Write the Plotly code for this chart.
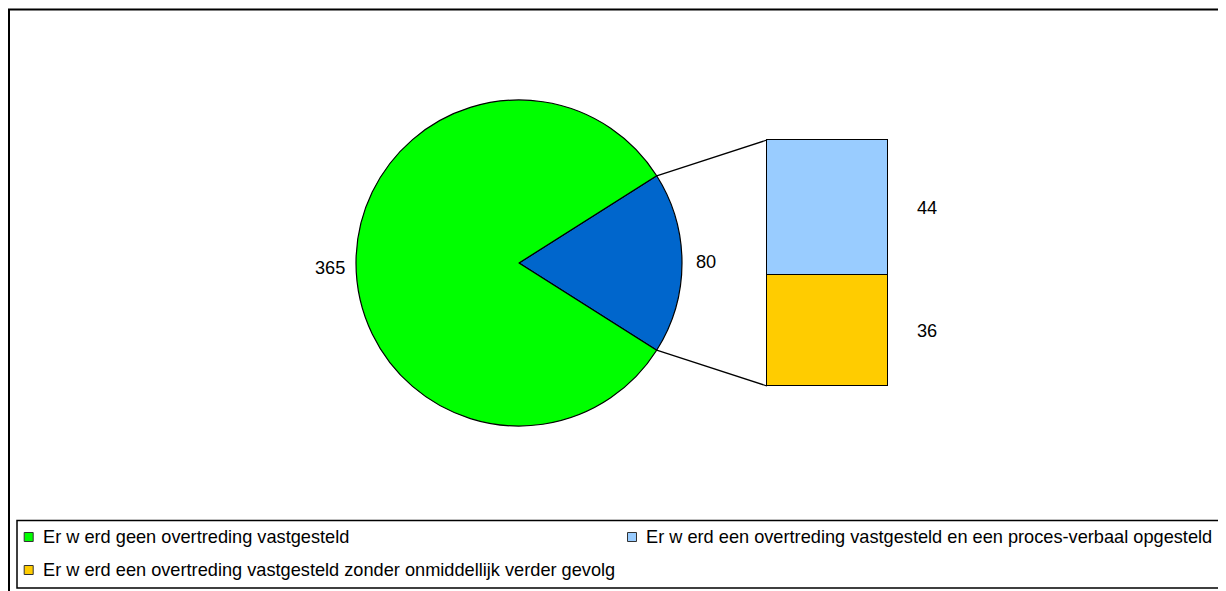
import math
import plotly.graph_objects as go

W, H = 1226, 591
OFF = 8  # page body margin: figure origin sits at screen (8, 8)

# ---- data ----
pie_labels = ["Er werd een overtreding vastgesteld", "Er werd geen overtreding vastgesteld"]
pie_values = [80, 365]
bar_labels = ["Er w erd een overtreding vastgesteld zonder onmiddellijk verder gevolg",
              "Er w erd een overtreding vastgesteld en een proces-verbaal opgesteld"]
bar_values = [36, 44]
legend_texts = ["Er w erd geen overtreding vastgesteld",
                "Er w erd een overtreding vastgesteld en een proces-verbaal opgesteld",
                "Er w erd een overtreding vastgesteld zonder onmiddellijk verder gevolg"]

C_GREEN = "#00FF00"
C_BLUE = "#0066CC"
C_LBLUE = "#99CCFF"
C_ORANGE = "#FFCC00"
bar_colors = [C_ORANGE, C_LBLUE]
FONT = "Liberation Sans, Arial, sans-serif"
FS = 18.2


def px(x):
    return (x - OFF) / W


def py(y):
    return 1 - (y - OFF) / H


# pie geometry (screen pixels)
cx, cy, r = 519, 263, 163
# bar geometry (screen pixels)
bx0, bx1, by_top, by_bot = 767, 888, 140, 386
PAD = 6
X_RIGHT = 970  # right end of the bar subplot area (room for labels)

total = sum(pie_values)
half = math.pi * pie_values[0] / total  # half-angle of the split slice
rot = 90 - math.degrees(half)

fig = go.Figure()

fig.add_trace(go.Pie(
    labels=pie_labels, values=pie_values, sort=False, direction="clockwise",
    rotation=rot,
    marker=dict(colors=[C_BLUE, C_GREEN], line=dict(color="black", width=1.2)),
    textinfo="none",
    domain=dict(x=[px(cx - r), px(cx + r)], y=[py(cy + r), py(cy - r)]),
    automargin=False, showlegend=False, hoverinfo="label+value",
))

bar_sum = sum(bar_values)
for lab, val, col in zip(bar_labels, bar_values, bar_colors):
    fig.add_trace(go.Bar(
        x=[0], y=[val], name=lab,
        marker=dict(color=col, line=dict(color="black", width=1.5)),
        xaxis="x", yaxis="y", showlegend=False, width=1,
    ))

shapes = []
annotations = []

# value labels beside the bar (data coordinates of the bar axes)
acc = 0
for v in bar_values:
    annotations.append(dict(text=str(v), xref="x", yref="y", x=0.82, y=acc + v / 2,
                            xanchor="center", yanchor="middle", showarrow=False,
                            font=dict(family=FONT, size=FS, color="black")))
    acc += v

# pie value labels outside the slices
annotations.append(dict(text=str(pie_values[1]), xref="paper", yref="paper",
                        x=px(cx - r - 9), y=py(cy + 5), xanchor="right", yanchor="middle",
                        showarrow=False, font=dict(family=FONT, size=FS, color="black")))
annotations.append(dict(text=str(pie_values[0]), xref="paper", yref="paper",
                        x=px(cx + r + 12), y=py(cy - 1), xanchor="left", yanchor="middle",
                        showarrow=False, font=dict(family=FONT, size=FS, color="black")))

# connector lines from split slice to bar
p_top = (cx + r * math.cos(half), cy - r * math.sin(half))
p_bot = (cx + r * math.cos(half), cy + r * math.sin(half))
shapes.append(dict(type="line", xref="paper", yref="paper",
                   x0=px(p_top[0]), y0=py(p_top[1]), x1=px(bx0), y1=py(by_top),
                   line=dict(color="black", width=1.3)))
shapes.append(dict(type="line", xref="paper", yref="paper",
                   x0=px(p_bot[0]), y0=py(p_bot[1]), x1=px(bx0), y1=py(by_bot),
                   line=dict(color="black", width=1.3)))
# outer border
shapes.append(dict(type="rect", xref="paper", yref="paper",
                   x0=px(9), y0=py(9.5), x1=px(1260), y1=py(640),
                   line=dict(color="black", width=2), fillcolor="rgba(0,0,0,0)"))
# legend box
shapes.append(dict(type="rect", xref="paper", yref="paper",
                   x0=px(17), y0=py(520.5), x1=px(1225), y1=py(588),
                   line=dict(color="black", width=1.5), fillcolor="rgba(0,0,0,0)"))

leg_pos = [(28.7, 537), (632, 537), (28.7, 570)]
leg_cols = [C_GREEN, C_LBLUE, C_ORANGE]
for (lx, ly), col, txt in zip(leg_pos, leg_cols, legend_texts):
    shapes.append(dict(type="rect", xref="paper", yref="paper",
                       x0=px(lx - 4.5), y0=py(ly + 4.5), x1=px(lx + 4.5), y1=py(ly - 4.5),
                       line=dict(color="#333333", width=1), fillcolor=col))
    annotations.append(dict(text=txt, xref="paper", yref="paper",
                            x=px(lx + 12.5), y=py(ly), xanchor="left", yanchor="middle",
                            showarrow=False,
                            font=dict(family=FONT, size=FS, color="black")))

ux = 1.0 / (bx1 - bx0)
uy = bar_sum / (by_bot - by_top)
fig.update_layout(
    width=W, height=H, margin=dict(l=0, r=0, t=0, b=0),
    paper_bgcolor="white", plot_bgcolor="rgba(0,0,0,0)",
    barmode="stack", bargap=0,
    xaxis=dict(domain=[px(bx0 - PAD), px(X_RIGHT)],
               range=[-0.5 - PAD * ux, 0.5 + (X_RIGHT - bx1) * ux], visible=False,
               fixedrange=True),
    yaxis=dict(domain=[py(by_bot + PAD), py(by_top - PAD)],
               range=[-PAD * uy, bar_sum + PAD * uy], visible=False, fixedrange=True),
    shapes=shapes, annotations=annotations, showlegend=False,
)

fig.write_html("out.html")
